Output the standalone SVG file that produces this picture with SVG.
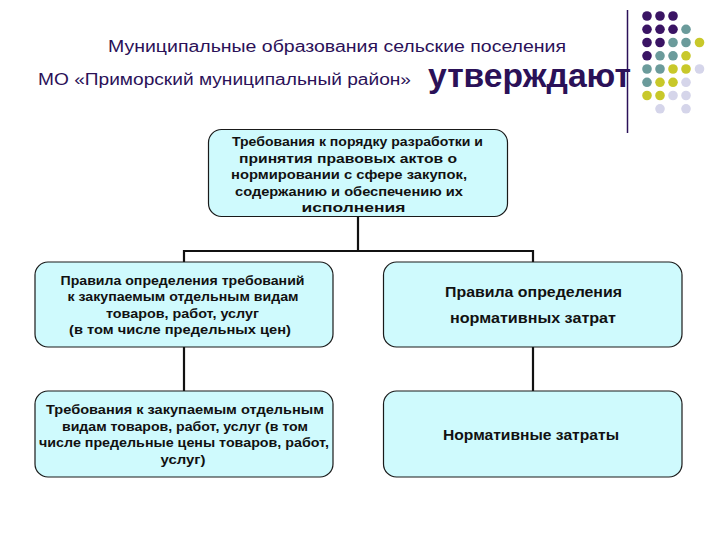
<svg xmlns="http://www.w3.org/2000/svg" width="720" height="540" viewBox="0 0 720 540">
<style>
.hdr{font-family:"Liberation Sans",Arial,sans-serif;fill:#2b1158;}
.box{fill:#cffafd;stroke:#1a1a1a;stroke-width:1.2;}
.t{font-family:"Liberation Sans",Arial,sans-serif;font-weight:bold;fill:#111;text-anchor:middle;}
.conn{stroke:#111;stroke-width:2.2;fill:none;}
.p{fill:#3a1464;}.g{fill:#6b9b9b;}.y{fill:#c8c82a;}.l{fill:#d5d5ea;}
</style>
<rect width="720" height="540" fill="#fff"/>
<g id="decor">
<line x1="627.5" y1="10" x2="627.5" y2="133" stroke="#2b1158" stroke-width="1.5"/>
<g id="dots">
<circle class="p" cx="647" cy="16" r="4.8"/><circle class="p" cx="660" cy="16" r="4.8"/><circle class="p" cx="673" cy="16" r="4.8"/>
<circle class="p" cx="647" cy="29.3" r="4.8"/><circle class="p" cx="660" cy="29.3" r="4.8"/><circle class="p" cx="673" cy="29.3" r="4.8"/><circle class="g" cx="686" cy="29.3" r="4.8"/>
<circle class="p" cx="647" cy="42.5" r="4.8"/><circle class="p" cx="660" cy="42.5" r="4.8"/><circle class="g" cx="673" cy="42.5" r="4.8"/><circle class="g" cx="686" cy="42.5" r="4.8"/><circle class="y" cx="699.5" cy="42.5" r="4.8"/>
<circle class="p" cx="647" cy="55.8" r="4.8"/><circle class="g" cx="660" cy="55.8" r="4.8"/><circle class="g" cx="673" cy="55.8" r="4.8"/><circle class="y" cx="686" cy="55.8" r="4.8"/>
<circle class="g" cx="647" cy="69" r="4.8"/><circle class="g" cx="660" cy="69" r="4.8"/><circle class="y" cx="673" cy="69" r="4.8"/><circle class="y" cx="686" cy="69" r="4.8"/><circle class="l" cx="699.5" cy="69" r="4.8"/>
<circle class="g" cx="647" cy="82.3" r="4.8"/><circle class="y" cx="660" cy="82.3" r="4.8"/><circle class="y" cx="673" cy="82.3" r="4.8"/><circle class="l" cx="686" cy="82.3" r="4.8"/>
<circle class="y" cx="647" cy="95.5" r="4.8"/><circle class="y" cx="660" cy="95.5" r="4.8"/><circle class="l" cx="673" cy="95.5" r="4.8"/><circle class="l" cx="686" cy="95.5" r="4.8"/>
<circle class="l" cx="660" cy="108.8" r="4.8"/><circle class="l" cx="686" cy="108.8" r="4.8"/>
</g>
</g>
<g id="header">
<text class="hdr" x="337" y="52" font-size="16" text-anchor="middle" textLength="458" lengthAdjust="spacingAndGlyphs">Муниципальные образования сельские поселения</text>
<text class="hdr" x="224.5" y="85" font-size="16" text-anchor="middle" textLength="373" lengthAdjust="spacingAndGlyphs">МО «Приморский муниципальный район»</text>
<text class="hdr" x="529.5" y="87" font-size="33" font-weight="bold" text-anchor="middle" textLength="203" lengthAdjust="spacingAndGlyphs">утверждают</text>
</g>
<g id="connectors">
<path class="conn" d="M358 216.5 V251 M184 251 H533 M184 250 V262 M533 250 V262 M184 347 V391 M533 347 V391"/>
</g>
<g id="node-top">
<rect class="box" x="208.5" y="129.5" width="299" height="87" rx="13"/>
<text class="t" font-size="12" x="357.5" y="146" textLength="251" lengthAdjust="spacingAndGlyphs">Требования к порядку разработки и</text>
<text class="t" font-size="12" x="348" y="162.5" textLength="218" lengthAdjust="spacingAndGlyphs">принятия правовых актов о</text>
<text class="t" font-size="12" x="349" y="179" textLength="236" lengthAdjust="spacingAndGlyphs">нормировании с сфере закупок,</text>
<text class="t" font-size="12" x="349" y="195.5" textLength="228" lengthAdjust="spacingAndGlyphs">содержанию и обеспечению их</text>
<text class="t" font-size="12" x="353.5" y="212" textLength="104" lengthAdjust="spacingAndGlyphs">исполнения</text>
</g>
<g id="node-rules-req">
<rect class="box" x="35" y="262" width="298" height="85" rx="13"/>
<text class="t" font-size="13" x="182.5" y="284.5" textLength="244" lengthAdjust="spacingAndGlyphs">Правила определения требований</text>
<text class="t" font-size="13" x="183" y="301" textLength="231" lengthAdjust="spacingAndGlyphs">к закупаемым отдельным видам</text>
<text class="t" font-size="13" x="182.5" y="317.5" textLength="153" lengthAdjust="spacingAndGlyphs">товаров, работ, услуг</text>
<text class="t" font-size="13" x="180" y="334" textLength="222" lengthAdjust="spacingAndGlyphs">(в том числе предельных цен)</text>
</g>
<g id="node-rules-cost">
<rect class="box" x="383.5" y="262" width="298.5" height="85" rx="13"/>
<text class="t" font-size="14" x="533.5" y="297" textLength="177" lengthAdjust="spacingAndGlyphs">Правила определения</text>
<text class="t" font-size="14" x="533" y="323" textLength="166" lengthAdjust="spacingAndGlyphs">нормативных затрат</text>
</g>
<g id="node-req">
<rect class="box" x="35" y="391" width="298" height="86" rx="13"/>
<text class="t" font-size="13" x="185" y="414" textLength="278" lengthAdjust="spacingAndGlyphs">Требования к закупаемым отдельным</text>
<text class="t" font-size="13" x="185" y="430.5" textLength="246" lengthAdjust="spacingAndGlyphs">видам товаров, работ, услуг (в том</text>
<text class="t" font-size="13" x="184" y="447" textLength="290" lengthAdjust="spacingAndGlyphs">числе предельные цены товаров, работ,</text>
<text class="t" font-size="13" x="183" y="463.5" textLength="45" lengthAdjust="spacingAndGlyphs">услуг)</text>
</g>
<g id="node-cost">
<rect class="box" x="383.5" y="391" width="298.5" height="86" rx="13"/>
<text class="t" font-size="14" x="531" y="440" textLength="176" lengthAdjust="spacingAndGlyphs">Нормативные затраты</text>
</g>
</svg>
